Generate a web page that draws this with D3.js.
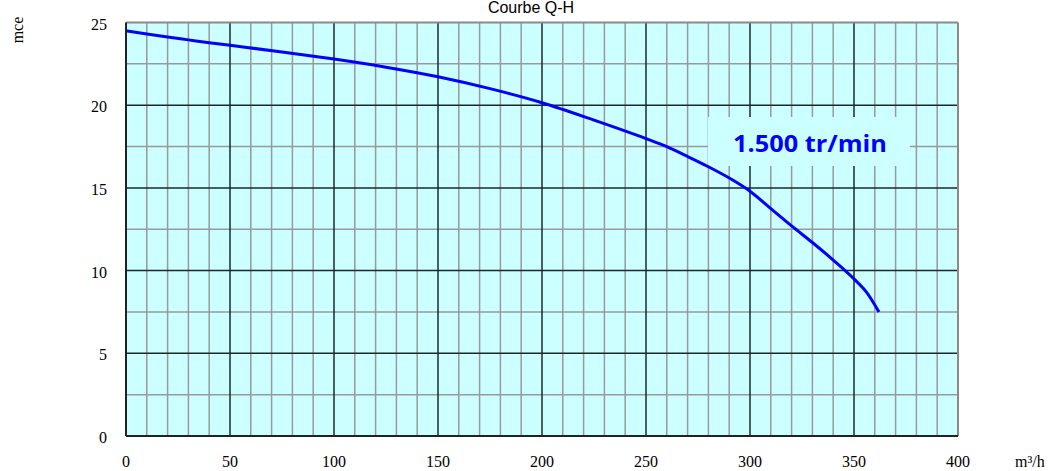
<!DOCTYPE html>
<html>
<head>
<meta charset="utf-8">
<script src="https://cdn.jsdelivr.net/npm/d3@7"></script>
<style>
  body { margin: 0; background: #fff; }
  svg { display: block; }
</style>
</head>
<body>
<svg id="chart" width="1060" height="471"></svg>
<script>
// Q-H curve
const flow = [0, 10, 20, 30, 40, 50, 75, 100, 125, 150, 175, 200, 225, 250, 260, 270, 280, 290, 300, 310, 320, 330, 340, 350, 356, 362];
const head = [24.5, 24.3, 24.12, 23.95, 23.78, 23.62, 23.22, 22.79, 22.3, 21.72, 21.0, 20.15, 19.1, 17.98, 17.49, 16.9, 16.28, 15.6, 14.8, 13.75, 12.7, 11.7, 10.64, 9.5, 8.7, 7.5];
const xTicks = [0, 50, 100, 150, 200, 250, 300, 350, 400];
const yTicks = [0, 5, 10, 15, 20, 25];
const title = "Courbe Q-H";
const speedLabel = "1.500 tr/min";

const margin = { top: 22.5, left: 126, right: 102, bottom: 35 };
const width = 1060, height = 471;

const svg = d3.select("#chart");

const x = d3.scaleLinear().domain([0, 400]).range([margin.left, width - margin.right]);
const y = d3.scaleLinear().domain([0, 25]).range([height - margin.bottom, margin.top]);

// plot background
svg.append("rect")
  .attr("x", x(0)).attr("y", y(25))
  .attr("width", x(400) - x(0)).attr("height", y(0) - y(25))
  .attr("fill", "#ccffff");

const grid = svg.append("g");

// minor grid
grid.selectAll(".vx").data(d3.range(10, 400, 10).filter(d => d % 50 !== 0))
  .join("line")
  .attr("x1", d => x(d)).attr("x2", d => x(d))
  .attr("y1", y(0)).attr("y2", y(25))
  .attr("stroke", "#999").attr("stroke-width", 1.5);
grid.selectAll(".hy").data(d3.range(2.5, 25, 5))
  .join("line")
  .attr("x1", x(0)).attr("x2", x(400))
  .attr("y1", d => y(d)).attr("y2", d => y(d))
  .attr("stroke", "#999").attr("stroke-width", 1.5);

// major grid
grid.selectAll(".mx").data(xTicks.filter(d => d > 0 && d < 400))
  .join("line")
  .attr("x1", d => x(d)).attr("x2", d => x(d))
  .attr("y1", y(0)).attr("y2", y(25))
  .attr("stroke", "#1a2a2a").attr("stroke-width", 1.5);
grid.selectAll(".my").data(yTicks.filter(d => d > 0 && d < 25))
  .join("line")
  .attr("x1", x(0)).attr("x2", x(400))
  .attr("y1", d => y(d)).attr("y2", d => y(d))
  .attr("stroke", "#1a2a2a").attr("stroke-width", 1.5);

// border: top/right grey, left/bottom dark
svg.append("line").attr("x1", x(0)).attr("x2", x(400)).attr("y1", y(25)).attr("y2", y(25))
  .attr("stroke", "#8a8a8a").attr("stroke-width", 2);
svg.append("line").attr("x1", x(400)).attr("x2", x(400)).attr("y1", y(0)).attr("y2", y(25))
  .attr("stroke", "#8a8a8a").attr("stroke-width", 2);

// label box covers the grid
svg.append("rect")
  .attr("x", 708).attr("y", 117).attr("width", 202).attr("height", 49)
  .attr("fill", "#ccffff");
svg.append("text")
  .attr("x", 733).attr("y", 152)
  .attr("textLength", 154).attr("lengthAdjust", "spacingAndGlyphs")
  .attr("font-family", "'Open Sans', sans-serif")
  .attr("font-weight", "bold").attr("font-size", 23)
  .attr("fill", "#0000ff")
  .text(speedLabel);

// curve
const line = d3.line().x(d => x(d[0])).y(d => y(d[1])).curve(d3.curveMonotoneX);
svg.append("path")
  .datum(d3.zip(flow, head))
  .attr("d", line)
  .attr("fill", "none").attr("stroke", "#0000ff").attr("stroke-width", 3);

svg.append("line").attr("x1", x(0)).attr("x2", x(0)).attr("y1", y(0)).attr("y2", y(25))
  .attr("stroke", "#222").attr("stroke-width", 2);
svg.append("line").attr("x1", x(0)).attr("x2", x(400)).attr("y1", y(0)).attr("y2", y(0))
  .attr("stroke", "#222").attr("stroke-width", 2);

// axes labels
const serif = "'Liberation Serif', 'Times New Roman', serif";
svg.append("g").selectAll("text").data(xTicks)
  .join("text")
  .attr("x", d => x(d)).attr("y", 467)
  .attr("text-anchor", "middle")
  .attr("font-family", serif).attr("font-size", 16)
  .text(d => d);
svg.append("g").selectAll("text").data(yTicks)
  .join("text")
  .attr("x", 107).attr("y", d => y(d) + 7)
  .attr("text-anchor", "end")
  .attr("font-family", serif).attr("font-size", 16)
  .text(d => d);

svg.append("text")
  .attr("x", 1015).attr("y", 467)
  .attr("font-family", serif).attr("font-size", 16)
  .text("m³/h");
svg.append("text")
  .attr("transform", "translate(23,30) rotate(-90)")
  .attr("text-anchor", "middle")
  .attr("font-family", serif).attr("font-size", 16)
  .text("mce");

svg.append("text")
  .attr("x", 531).attr("y", 13)
  .attr("text-anchor", "middle")
  .attr("font-family", "'Liberation Sans', Arial, sans-serif").attr("font-size", 16)
  .text(title);
</script>
</body>
</html>
